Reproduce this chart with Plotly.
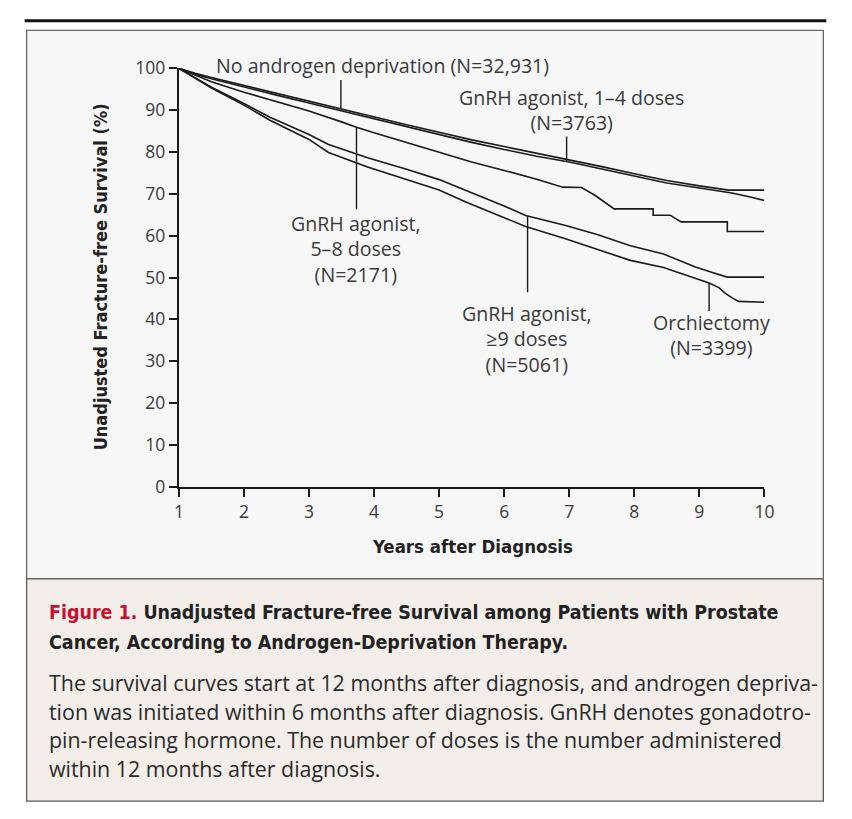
import numpy as np
import plotly.graph_objects as go

# ---- Kaplan-Meier style fracture-free survival (%) by years after diagnosis ----
no_adt_x = [1, 1.25, 1.5, 2, 2.5, 3, 3.5, 4, 4.5, 5, 5.5, 6, 6.5, 7, 7.5, 8, 8.5, 9, 9.45, 10]
no_adt_y = [100, 98.8, 97.8, 95.9, 94.0, 92.2, 90.3, 88.3, 86.5, 84.7, 82.9, 81.3, 79.7, 78.2, 76.5, 74.8, 73.2, 71.9, 70.9, 70.9]

gnrh_1_4_x = [1, 1.25, 1.5, 2, 2.5, 3, 3.5, 4, 4.5, 5, 5.5, 6, 6.5, 7, 7.5, 8, 8.5, 9, 9.5, 9.8, 10]
gnrh_1_4_y = [100, 98.6, 97.5, 95.5, 93.6, 91.7, 89.8, 87.9, 86.0, 84.1, 82.3, 80.6, 79.0, 77.6, 75.9, 74.2, 72.6, 71.4, 70.2, 69.2, 68.4]

gnrh_5_8_x = [1, 1.5, 2, 2.5, 3, 3.5, 3.73, 4, 4.5, 5, 5.5, 6, 6.5, 6.9, 7.19, 7.4, 7.69, 8.29, 8.29, 8.55, 8.72, 9.43, 9.43, 10]
gnrh_5_8_y = [100, 96.8, 94.3, 92.0, 89.8, 87.2, 85.9, 84.6, 82.3, 79.9, 77.6, 75.6, 73.5, 71.6, 71.5, 69.6, 66.4, 66.4, 64.9, 64.9, 63.3, 63.3, 61.0, 61.0]

gnrh_9_x = [1, 1.5, 2, 2.4, 3, 3.3, 3.9, 4.5, 5, 5.42, 6, 6.33, 6.93, 7.43, 7.94, 8.45, 8.94, 9.2, 9.43, 10]
gnrh_9_y = [100, 95.5, 91.6, 88.3, 84.2, 81.8, 78.6, 75.9, 73.4, 70.8, 67.1, 64.8, 62.5, 60.3, 57.6, 55.6, 52.5, 51.2, 50.1, 50.1]

orchi_x = [1, 1.5, 2, 2.4, 3, 3.3, 3.9, 4.5, 5, 5.42, 6, 6.33, 6.93, 7.43, 7.94, 8.45, 8.94, 9.15, 9.3, 9.4, 9.5, 9.6, 10]
orchi_y = [100, 95.3, 91.2, 87.6, 83.0, 79.9, 76.4, 73.5, 70.9, 68.0, 64.4, 62.2, 59.3, 56.8, 54.1, 52.4, 49.9, 48.7, 47.6, 46.2, 45.2, 44.3, 44.1]

x_ticks = [1, 2, 3, 4, 5, 6, 7, 8, 9, 10]
y_ticks = [0, 10, 20, 30, 40, 50, 60, 70, 80, 90, 100]

# name, x, y, pointer x position, pointer far end (in % units)
series = [
    ("No androgen deprivation", no_adt_x, no_adt_y, 3.49, 97.2),
    ("GnRH agonist, 1-4 doses", gnrh_1_4_x, gnrh_1_4_y, 6.96, 83.7),
    ("GnRH agonist, 5-8 doses", gnrh_5_8_x, gnrh_5_8_y, 3.73, 66.3),
    ("GnRH agonist, >=9 doses", gnrh_9_x, gnrh_9_y, 6.36, 46.5),
    ("Orchiectomy", orchi_x, orchi_y, 9.15, 42.0),
]

W, H = 852, 819


def fx(px):
    return px / W


def fy(py):
    return 1 - py / H


TEXT = "#3a3a3a"
INK = "#1a1a1a"
LABEL_FONT = "Open Sans, Lato, DejaVu Sans"
COND_BOLD = "Liberation Sans Narrow, DejaVu Sans Condensed, Roboto"
BODY_FONT = "Open Sans, Lato, DejaVu Sans"

fig = go.Figure()
for name, xs, ys, _, _ in series:
    fig.add_trace(go.Scatter(x=xs, y=ys, mode="lines", name=name,
                             line=dict(color=INK, width=1.6), hoverinfo="skip"))

shapes = [
    # top rule
    dict(type="line", xref="paper", yref="paper", x0=fx(20), x1=fx(836), y0=fy(8), y1=fy(8),
         line=dict(color="#111111", width=3), layer="below"),
    # chart panel
    dict(type="rect", xref="paper", yref="paper", x0=fx(22), x1=fx(833), y0=fy(583), y1=fy(18),
         fillcolor="#f7f7f7", line=dict(color="#6a6a6a", width=1.3), layer="below"),
    # caption panel
    dict(type="rect", xref="paper", yref="paper", x0=fx(22), x1=fx(833), y0=fy(812), y1=fy(583),
         fillcolor="#f3eee9", line=dict(color="#5a5a5a", width=1.3), layer="below"),
]
# leader lines from each label to its curve
for name, xs, ys, px_, end in series:
    tip = float(np.interp(px_, xs, ys))
    shapes.append(dict(type="line", xref="x", yref="y", x0=px_, x1=px_, y0=tip, y1=end,
                       line=dict(color=INK, width=1.4)))

annotations = []


def label(text, cx, cy, anchor="center", size=19.6, family=LABEL_FONT, color=TEXT, angle=0):
    annotations.append(dict(text=text, xref="paper", yref="paper", x=fx(cx), y=fy(cy),
                            xanchor=anchor, yanchor="middle", align="center" if anchor == "center" else anchor,
                            showarrow=False, textangle=angle,
                            font=dict(size=size, family=family, color=color)))


# curve labels (multi-line labels kept as one text block each)
label("No androgen deprivation (N=32,931)", 213, 54, anchor="left")
label("GnRH agonist, 1–4 doses<br>(N=3763)", 577, 100)
label("GnRH agonist,<br>5–8 doses<br>(N=2171)", 357, 243)
label("GnRH agonist,<br>≥9 doses<br>(N=5061)", 531, 336)
label("Orchiectomy<br>(N=3399)", 719, 332)

# axis titles
label("<b>Years after Diagnosis</b>", 476, 550, size=18.5, family=COND_BOLD, color="#222222")
label("<b>Unadjusted Fracture-free Survival (%)</b>", 97, 272, size=18, family=COND_BOLD,
      color="#222222", angle=-90)

# caption
label("<b><span style='color:#c8102e'>Figure 1.</span> Unadjusted Fracture-free Survival among Patients with Prostate</b>",
      43, 618, anchor="left", size=19.45, family=COND_BOLD, color="#222222")
label("<b>Cancer, According to Androgen-Deprivation Therapy.</b>",
      43, 649, anchor="left", size=19.45, family=COND_BOLD, color="#222222")
body = [
    "The survival curves start at 12 months after diagnosis, and androgen depriva-",
    "tion was initiated within 6 months after diagnosis. GnRH denotes gonadotro-",
    "pin-releasing hormone. The number of doses is the number administered",
    "within 12 months after diagnosis.",
]
for i, line in enumerate(body):
    label(line, 43, 690 + i * 29.3, anchor="left", size=21.4, family=BODY_FONT, color="#2a2a2a")

axis_common = dict(showgrid=False, zeroline=False, showline=True, linecolor=INK, linewidth=2,
                   ticks="outside", ticklen=8, tickwidth=1.5, tickcolor=INK,
                   tickfont=dict(size=17.5, family=LABEL_FONT, color=TEXT), fixedrange=True)

fig.update_layout(
    width=W, height=H, autosize=False,
    margin=dict(l=0, r=0, t=0, b=0),
    paper_bgcolor="white", plot_bgcolor="rgba(0,0,0,0)",
    showlegend=False,
    xaxis=dict(domain=[fx(177), fx(773)], range=[1, 10], tickvals=x_ticks,
               ticktext=[str(v) for v in x_ticks], **axis_common),
    yaxis=dict(domain=[fy(488), fy(57)], range=[0, 100], tickvals=y_ticks,
               ticktext=[str(v) for v in y_ticks], **axis_common),
    shapes=shapes,
    annotations=annotations,
)

fig.write_html("out.html", post_script="document.body.style.margin='0';")
